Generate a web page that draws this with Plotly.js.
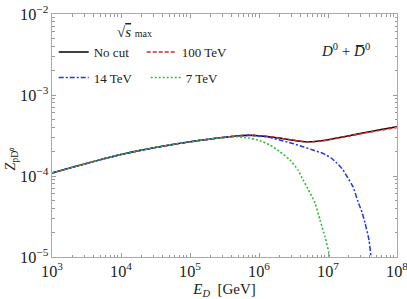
<!DOCTYPE html>
<html>
<head>
<meta charset="utf-8">
<script src="https://cdn.plot.ly/plotly-3.0.1.min.js"></script>
<style>html,body{margin:0;padding:0;background:#fff;}#chart{width:407px;height:299px;}</style>
</head>
<body>
<div id="chart"></div>
<script>
// Energy E_D [GeV] and Z_pD0 values
const eNoCut = [1e3, 1.778e3, 3.16e3, 5.62e3, 1e4, 1.778e4, 3.16e4, 5.62e4, 1e5, 1.778e5, 3.16e5, 5.01e5, 7.08e5, 1e6, 1.41e6, 2.0e6, 2.82e6, 3.98e6, 5.01e6, 6.31e6, 7.94e6, 1e7, 1.778e7, 3.16e7, 5.62e7, 1e8];
const zNoCut = [1.089e-4, 1.250e-4, 1.429e-4, 1.629e-4, 1.841e-4, 2.046e-4, 2.249e-4, 2.449e-4, 2.642e-4, 2.831e-4, 2.999e-4, 3.141e-4, 3.184e-4, 3.148e-4, 3.062e-4, 2.938e-4, 2.805e-4, 2.692e-4, 2.649e-4, 2.661e-4, 2.716e-4, 2.805e-4, 3.076e-4, 3.388e-4, 3.715e-4, 4.055e-4];

const e100 = [1e3, 1.778e3, 3.16e3, 5.62e3, 1e4, 1.778e4, 3.16e4, 5.62e4, 1e5, 1.778e5, 3.16e5, 5.01e5, 7.08e5, 1e6, 1.41e6, 2.0e6, 2.82e6, 3.98e6, 5.01e6, 6.31e6, 7.94e6, 1e7, 1.778e7, 3.16e7, 5.62e7, 1e8];
const z100 = [1.089e-4, 1.250e-4, 1.429e-4, 1.629e-4, 1.841e-4, 2.046e-4, 2.249e-4, 2.449e-4, 2.642e-4, 2.831e-4, 2.999e-4, 3.141e-4, 3.184e-4, 3.146e-4, 3.058e-4, 2.932e-4, 2.798e-4, 2.684e-4, 2.640e-4, 2.650e-4, 2.702e-4, 2.788e-4, 3.050e-4, 3.350e-4, 3.665e-4, 3.985e-4];

const e14 = [1e3, 1.778e3, 3.16e3, 5.62e3, 1e4, 1.778e4, 3.16e4, 5.62e4, 1e5, 1.778e5, 3.16e5, 5.01e5, 7.08e5, 1e6, 1.41e6, 2.0e6, 3.0e6, 4.35e6, 6.07e6, 8.47e6, 1.1e7, 1.35e7, 1.65e7, 1.95e7, 2.3e7, 2.72e7, 3.1e7, 3.44e7, 3.93e7, 4.2e7, 4.35e7];
const z14 = [1.089e-4, 1.250e-4, 1.429e-4, 1.629e-4, 1.841e-4, 2.046e-4, 2.249e-4, 2.449e-4, 2.642e-4, 2.831e-4, 2.999e-4, 3.135e-4, 3.170e-4, 3.125e-4, 3.00e-4, 2.78e-4, 2.535e-4, 2.30e-4, 2.09e-4, 1.90e-4, 1.68e-4, 1.44e-4, 1.19e-4, 9.4e-5, 7.4e-5, 4.82e-5, 3.6e-5, 2.63e-5, 1.62e-5, 1.0e-5, 7.0e-6];

const e7 = [1e3, 1.778e3, 3.16e3, 5.62e3, 1e4, 1.778e4, 3.16e4, 5.62e4, 1e5, 1.778e5, 3.16e5, 4.79e5, 7.08e5, 1.03e6, 1.44e6, 2.01e6, 2.81e6, 3.67e6, 4.35e6, 5.13e6, 6.49e6, 7.66e6, 9.06e6, 1.03e7, 1.06e7];
const z7 = [1.089e-4, 1.250e-4, 1.429e-4, 1.629e-4, 1.841e-4, 2.046e-4, 2.249e-4, 2.449e-4, 2.642e-4, 2.831e-4, 2.99e-4, 3.05e-4, 2.95e-4, 2.73e-4, 2.415e-4, 1.995e-4, 1.578e-4, 1.186e-4, 8.93e-5, 6.92e-5, 4.65e-5, 2.86e-5, 1.77e-5, 1.12e-5, 8.9e-6];

const seriesNames = ["No cut", "100 TeV", "14 TeV", "7 TeV"];

const serif = "Liberation Serif, Times New Roman, serif";

const traces = [
  {x: eNoCut, y: zNoCut, name: seriesNames[0], mode: "lines", line: {color: "#000000", width: 1.5, shape: "spline", smoothing: 0.6}, legend: "legend"},
  {x: e100, y: z100, name: seriesNames[1], mode: "lines", line: {color: "#cc2a2a", width: 1.6, dash: "4px,2px", shape: "spline", smoothing: 0.6}, legend: "legend"},
  {x: e14, y: z14, name: seriesNames[2], mode: "lines", line: {color: "#2233ee", width: 1.5, dash: "5px,2px,2px,2px", shape: "spline", smoothing: 0.5}, legend: "legend2"},
  {x: e7, y: z7, name: seriesNames[3], mode: "lines", line: {color: "#33bb33", width: 1.6, dash: "2px,2px", shape: "spline", smoothing: 0.5}, legend: "legend2"}
];

const axisCommon = {
  type: "log",
  showline: true, linecolor: "#aaaaaa", linewidth: 1,
  mirror: "allticks",
  ticks: "inside", ticklen: 4, tickcolor: "#999999", tickwidth: 1,
  showgrid: false, zeroline: false,
  exponentformat: "power",
  ticklabeloverflow: "allow",
  tickfont: {family: serif, size: 13, color: "#222"},
  minor: {dtick: "D1", ticks: "inside", ticklen: 2.5, tickcolor: "#999999", showgrid: false}
};

const layout = {
  width: 407, height: 299,
  margin: {l: 52, r: 10, t: 14, b: 42},
  paper_bgcolor: "#fff", plot_bgcolor: "#fff",
  showlegend: true,
  xaxis: Object.assign({}, axisCommon, {
    range: [3, 8], dtick: 1, tick0: 0,
    title: {text: "<i>E<sub>D</sub></i>  [GeV]", font: {family: serif, size: 15, color: "#222"}, standoff: 6}
  }),
  yaxis: Object.assign({}, axisCommon, {
    range: [-5, -2], dtick: 1, tick0: 0
  }),
  legend: {
    orientation: "h", x: 0.005, xanchor: "left", y: 0.905, yanchor: "top",
    entrywidth: 43, entrywidthmode: "pixels",
    font: {family: serif, size: 13, color: "#222"}, bgcolor: "rgba(0,0,0,0)"
  },
  legend2: {
    orientation: "h", x: 0.005, xanchor: "left", y: 0.8, yanchor: "top",
    entrywidth: 47, entrywidthmode: "pixels",
    font: {family: serif, size: 13, color: "#222"}, bgcolor: "rgba(0,0,0,0)"
  },
  annotations: [
    {xref: "paper", yref: "paper", x: 0.183, y: 0.925, xanchor: "left", yanchor: "middle", showarrow: false,
     text: "√<span style='text-decoration:overline'><i>s</i></span> <span style='font-size:10px'>max</span>", font: {family: serif, size: 15, color: "#222"}},
    {xref: "paper", yref: "paper", x: 0.852, y: 0.852, xanchor: "center", yanchor: "middle", showarrow: false,
     text: "<i>D</i><sup>0</sup> + <i>D̅</i><sup>0</sup>", font: {family: serif, size: 15, color: "#222"}},
    {xref: "paper", yref: "paper", x: -0.116, y: 0.405, xanchor: "center", yanchor: "middle", showarrow: false, textangle: -90,
     text: "<i>Z</i><sub>pD⁰</sub>", font: {family: serif, size: 14, color: "#222"}}
  ]
};

Plotly.newPlot("chart", traces, layout, {displayModeBar: false, staticPlot: true});
</script>
</body>
</html>
